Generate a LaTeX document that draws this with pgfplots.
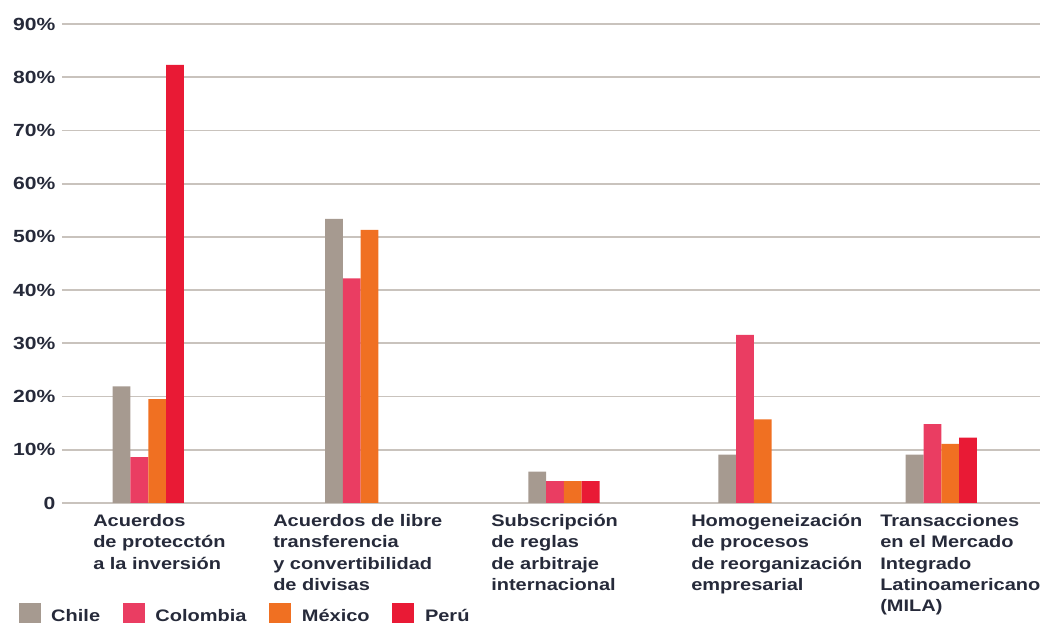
\documentclass[border=0pt]{standalone}
\usepackage{pgfplots}
\pgfplotsset{compat=1.18}
\usepackage{fontspec}
\setmainfont{Liberation Sans}[FakeStretch=1.2]
\definecolor{chile}{HTML}{A69A90}
\definecolor{colom}{HTML}{EA3D62}
\definecolor{mexi}{HTML}{F07022}
\definecolor{peru}{HTML}{E91A35}
\definecolor{txt}{HTML}{262A3A}
\definecolor{gridc}{HTML}{C9C3BD}
\pgfplotsset{
  mybar/.style={ybar, bar width=17.8, bar shift=0pt, draw=none, fill=#1,
    legend image code/.code={\fill[##1] (0pt,-12pt) rectangle (16.5pt,9.75pt);}},
}
\begin{document}
\begin{tikzpicture}
\useasboundingbox (-46.5pt,-90pt) rectangle (741.75pt,377.25pt);
\begin{axis}[
  at={(0pt,0pt)}, anchor=south west,
  scale only axis, width=733.5pt, height=359.25pt,
  xmin=62, xmax=1040, ymin=0, ymax=90,
  axis line style={draw=none},
  major tick length=0pt,
  ytick={0,10,...,90},
  yticklabels={0,10\%,20\%,30\%,40\%,50\%,60\%,70\%,80\%,90\%},
  ymajorgrids, grid style={draw=gridc, line width=1.3pt},
  /pgf/number format/assume math mode=true,
  ticklabel style={font=\bfseries\fontsize{12.5}{16}\selectfont, text=txt},
  yticklabel style={xshift=-1.5pt, font=\bfseries\fontsize{13.2}{16}\selectfont},
  xtick={93,273,491,691,880},
  xticklabels={{Acuerdos\\de protecctón\\a la inversión},
    {Acuerdos de libre\\transferencia\\y convertibilidad\\de divisas},
    {Subscripción\\de reglas\\de arbitraje\\internacional},
    {Homogeneización\\de procesos\\de reorganización\\empresarial},
    {Transacciones\\en el Mercado\\Integrado\\Latinoamericano\\(MILA)}},
  xticklabel style={anchor=north west, align=left, inner xsep=0pt, yshift=-5pt},
  legend columns=-1,
  legend style={at={(-0.0447,-0.2088)}, anchor=north west, draw=none, fill=none,
    inner sep=0pt, font=\bfseries\fontsize{12.5}{14}\selectfont, text=txt,
    /tikz/every odd column/.append style={column sep=6pt},
    /tikz/every even column/.append style={column sep=15pt}},
]
\addplot[mybar=chile] coordinates {(121.6,21.9) (333.9,53.4) (537.2,5.9) (727.2,9.1) (914.6,9.1)};
\addplot[mybar=colom] coordinates {(139.4,8.6) (351.7,42.2) (555.0,4.1) (745.0,31.6) (932.4,14.8)};
\addplot[mybar=mexi] coordinates {(157.2,19.5) (369.5,51.3) (572.8,4.1) (762.8,15.7) (950.2,11.1)};
\addplot[mybar=peru] coordinates {(175.0,82.3) (590.6,4.1) (968.0,12.3)};
\legend{Chile,Colombia,México,Perú}
\end{axis}
\end{tikzpicture}
\end{document}
